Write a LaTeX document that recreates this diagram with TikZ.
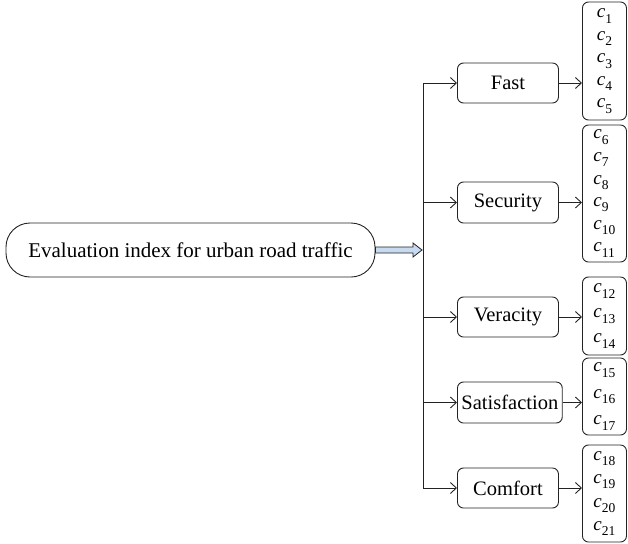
\documentclass[tikz,border=0pt]{standalone}
\usepackage{fontspec}
\setmainfont{Liberation Serif}
\usetikzlibrary{calc,arrows.meta}
\definecolor{arrowblue}{RGB}{200,218,240}
\definecolor{linegray}{RGB}{35,35,35}
\newcommand\cc[1]{\textit{c}\raisebox{-0.28em}{\fontsize{13.5}{14}\selectfont #1}}
\begin{document}
\begin{tikzpicture}[x=1pt,y=-1pt, line width=0.9pt, color=linegray,
  every node/.style={text=black},
  tip/.style={-{Straight Barb[length=6pt,width=11pt]}},
  cat/.style={draw, rounded corners=6pt, minimum width=101pt,
    minimum height=40pt, inner xsep=4pt, inner ysep=2pt, anchor=west,
    font=\rmfamily\fontsize{20.5}{24}\selectfont},
  lst/.style={draw, rounded corners=6pt, minimum width=44pt,
    align=left, anchor=west, inner sep=2pt},
  mainbox/.style={draw, rounded corners=24pt, minimum width=369pt,
    minimum height=54pt, font=\rmfamily\fontsize{21}{25}\selectfont}
]
\useasboundingbox (0,0) rectangle (628,543);

\node[mainbox] (main) at (190.5,250) {Evaluation index for urban road traffic};
\coordinate (j) at (423,250);

\node[cat] (fast) at (457,83) {Fast};
\node[cat, minimum height=41pt] (sec) at (457,202.5) {Security};
\node[cat] (ver) at (457,317) {Veracity};
\node[cat, minimum height=41pt] (sat) at (457,402.5) {Satisfaction};
\node[cat] (com) at (457,488) {Comfort};

\node[lst, minimum height=118pt, font=\rmfamily\fontsize{19}{22.5}\selectfont] (l1) at (582,61)
  {\cc{1}\\\cc{2}\\\cc{3}\\\cc{4}\\\cc{5}};
\node[lst, minimum height=137pt, font=\rmfamily\fontsize{19}{22.6}\selectfont] (l2) at (582,193.5)
  {\cc{6}\\\cc{7}\\\cc{8}\\\cc{9}\\\cc{10}\\\cc{11}};
\node[lst, minimum height=78pt, font=\rmfamily\fontsize{19}{25}\selectfont] (l3) at (582,316)
  {\cc{12}\\\cc{13}\\\cc{14}};
\node[lst, minimum height=77pt, font=\rmfamily\fontsize{19}{26.5}\selectfont] (l4) at (582,396.5)
  {\cc{15}\\\cc{16}\\\cc{17}};
\node[lst, minimum height=97pt, font=\rmfamily\fontsize{19}{23.5}\selectfont] (l5) at (582,493.5)
  {\cc{18}\\\cc{19}\\\cc{20}\\\cc{21}};

\filldraw[fill=arrowblue, line width=0.8pt, line join=miter]
  ($(main.east)+(0,-3)$) -- ($(j)+(-10,-3)$) -- ($(j)+(-10,-7)$) -- ($(j)+(-1,0)$)
  -- ($(j)+(-10,7)$) -- ($(j)+(-10,3)$) -- ($(main.east)+(0,3)$) -- cycle;

\draw (j |- fast.west) -- (j |- com.west);
\foreach \n in {fast,sec,ver,sat,com}
  \draw[tip] (j |- \n.west) -- (\n.west);

\draw[tip] (fast.east) -- (fast.east -| l1.west);
\draw[tip] (sec.east) -- (sec.east -| l2.west);
\draw[tip] (ver.east) -- (ver.east -| l3.west);
\draw[tip] (sat.east) -- (sat.east -| l4.west);
\draw[tip] (com.east) -- (com.east -| l5.west);
\end{tikzpicture}
\end{document}
